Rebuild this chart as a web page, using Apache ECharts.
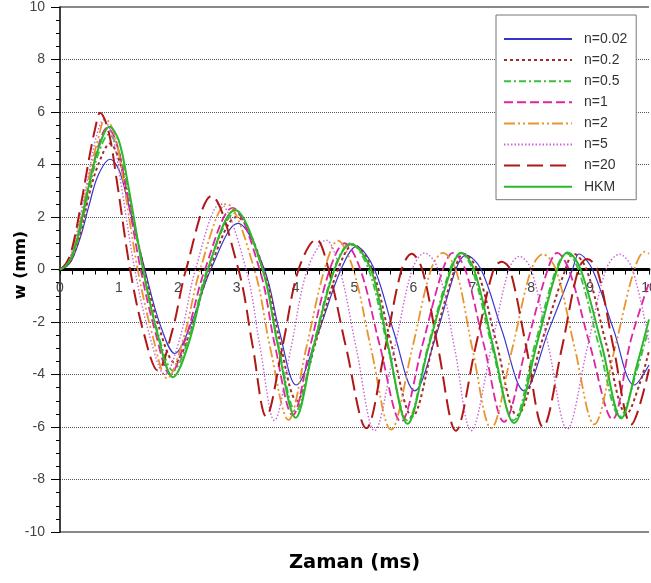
<!DOCTYPE html>
<html>
<head>
<meta charset="utf-8">
<script src="https://cdn.jsdelivr.net/npm/echarts@6/dist/echarts.min.js"></script>
<style>
  html, body { margin: 0; padding: 0; background: #fff; }
  #chart { width: 651px; height: 583px; }
</style>
</head>
<body>
<div id="chart"></div>
<script>
// Displacement w (mm) against time (ms), pairs of [t, w]
const seriesNames = ['n=0.02', 'n=0.2', 'n=0.5', 'n=1', 'n=2', 'n=5', 'n=20', 'HKM'];

const wN002 = [[0,0],[0.1,0.1],[0.2,0.35],[0.35,1.25],[0.5,2.5],[0.65,3.6],[0.85,4.2],[1.0,3.8],[1.15,2.6],[1.44,0],[1.7,-2.1],[1.95,-3.2],[2.22,-2.1],[2.56,0],[3.02,1.76],[3.47,0],[3.73,-2.4],[4.01,-4.4],[4.37,-2.5],[4.77,0],[5.03,0.87],[5.34,0],[5.67,-2.4],[6.02,-4.62],[6.4,-2.4],[6.72,0],[6.89,0.55],[7.15,0],[7.5,-2.3],[7.88,-4.62],[8.3,-2.3],[8.7,0],[8.81,0.59],[9.04,0],[9.4,-2.3],[9.75,-4.4],[10,-3.64]];

const wN02 = [[0,0],[0.1,0.12],[0.2,0.4],[0.35,1.4],[0.5,2.9],[0.65,4.0],[0.85,4.8],[1.0,4.2],[1.15,2.8],[1.43,0],[1.68,-2.2],[1.95,-3.55],[2.22,-2.3],[2.54,0],[3.0,2.0],[3.46,0],[3.72,-2.6],[4.02,-5.0],[4.35,-2.7],[4.72,0],[4.98,0.95],[5.3,0],[5.62,-2.8],[5.98,-5.6],[6.35,-2.7],[6.7,0],[6.85,0.6],[7.08,0],[7.4,-2.7],[7.76,-5.55],[8.2,-2.6],[8.58,0],[8.72,0.6],[8.94,0],[9.27,-2.8],[9.62,-5.5],[9.85,-4.3],[10,-3.1]];

const wN05 = [[0,0],[0.1,0.14],[0.2,0.45],[0.35,1.55],[0.5,3.1],[0.65,4.4],[0.83,5.15],[1.0,4.5],[1.15,3.1],[1.41,0],[1.66,-2.4],[1.92,-3.85],[2.2,-2.5],[2.5,0],[2.98,2.15],[3.44,0],[3.7,-2.8],[4.0,-5.4],[4.3,-2.9],[4.65,0],[4.93,1.0],[5.24,0],[5.56,-2.9],[5.9,-5.75],[6.25,-2.9],[6.62,0],[6.8,0.62],[7.0,0],[7.33,-2.9],[7.7,-5.75],[8.07,-2.8],[8.42,0],[8.6,0.62],[8.8,0],[9.15,-2.9],[9.51,-5.6],[9.8,-3.8],[10,-2.2]];

const wN1 = [[0,0],[0.1,0.16],[0.2,0.5],[0.35,1.7],[0.5,3.3],[0.65,4.7],[0.8,5.4],[0.95,4.9],[1.12,3.1],[1.37,0],[1.62,-2.4],[1.87,-4.0],[2.15,-2.5],[2.46,0],[2.93,2.35],[3.39,0],[3.65,-2.9],[3.95,-5.55],[4.25,-2.9],[4.58,0],[4.83,1.0],[5.1,0],[5.43,-2.9],[5.79,-5.8],[6.15,-2.9],[6.5,0],[6.67,0.63],[6.88,0],[7.2,-2.9],[7.54,-5.8],[7.92,-2.9],[8.28,0],[8.44,0.63],[8.64,0],[9.0,-2.9],[9.38,-5.7],[9.69,-2.7],[10,-0.5]];

const wN2 = [[0,0],[0.1,0.18],[0.2,0.6],[0.35,1.9],[0.5,3.6],[0.65,5.0],[0.77,5.75],[0.92,5.2],[1.08,3.3],[1.32,0],[1.57,-2.5],[1.82,-4.15],[2.1,-2.6],[2.38,0],[2.83,2.5],[3.3,0],[3.57,-3.0],[3.88,-5.73],[4.18,-3.0],[4.49,0],[4.72,1.1],[4.98,0],[5.28,-3.0],[5.62,-6.1],[5.98,-3.0],[6.3,0],[6.5,0.63],[6.72,0],[7.0,-3.0],[7.32,-6.04],[7.68,-3.0],[8.0,0],[8.2,0.58],[8.42,0],[8.74,-3.0],[9.07,-5.9],[9.42,-3.0],[9.75,0],[9.93,0.68],[10,0.6]];

const wN5 = [[0,0],[0.1,0.2],[0.2,0.65],[0.35,2.1],[0.5,3.8],[0.62,5.1],[0.74,5.7],[0.9,5.0],[1.04,3.2],[1.27,0],[1.52,-2.5],[1.78,-4.0],[2.05,-2.5],[2.3,0],[2.72,2.5],[3.16,0],[3.4,-3.0],[3.64,-5.75],[3.92,-3.0],[4.2,0],[4.52,1.12],[4.75,0],[5.03,-3.0],[5.34,-6.14],[5.68,-3.0],[5.98,0],[6.19,0.63],[6.42,0],[6.7,-3.0],[6.98,-6.14],[7.32,-3.0],[7.62,0],[7.8,0.5],[8.0,0],[8.3,-3.0],[8.61,-6.08],[8.95,-3.0],[9.27,0],[9.5,0.58],[9.72,0],[10,-2.8]];

const wN20 = [[0,0],[0.1,0.22],[0.2,0.75],[0.35,2.4],[0.5,4.3],[0.6,5.4],[0.68,5.97],[0.82,5.3],[0.97,3.3],[1.19,0],[1.42,-2.4],[1.66,-3.85],[1.91,-2.3],[2.14,0],[2.57,2.8],[3.03,0],[3.27,-2.9],[3.5,-5.6],[3.78,-2.9],[4.05,0],[4.35,1.15],[4.56,0],[4.86,-3.0],[5.2,-6.05],[5.52,-3.0],[5.8,0],[5.97,0.6],[6.15,0],[6.42,-3.0],[6.72,-6.14],[7.05,-3.0],[7.36,0],[7.5,0.3],[7.64,0],[7.92,-3.0],[8.2,-6.0],[8.52,-3.0],[8.8,0],[8.95,0.4],[9.12,0],[9.4,-3.0],[9.7,-5.9],[10,-3.8]];

const wHKM = [[0,0],[0.1,0.15],[0.2,0.49],[0.3,1.24],[0.5,3.3],[0.65,4.6],[0.84,5.44],[1.0,4.9],[1.15,3.3],[1.41,0],[1.65,-2.4],[1.92,-4.1],[2.2,-2.7],[2.51,0],[2.97,2.27],[3.44,0],[3.7,-2.9],[4.0,-5.65],[4.3,-3.0],[4.66,0],[4.94,0.97],[5.28,0],[5.58,-3.0],[5.9,-5.88],[6.25,-3.0],[6.64,0],[6.81,0.64],[7.03,0],[7.35,-2.9],[7.71,-5.85],[8.1,-2.8],[8.44,0],[8.62,0.65],[8.84,0],[9.2,-2.9],[9.53,-5.67],[9.8,-3.6],[10,-1.9]];

const seriesData = [wN002, wN02, wN05, wN1, wN2, wN5, wN20, wHKM];

// Line look for each curve: colour, width, dash pattern
const lineLooks = [
  { color: '#3535cc', width: 1.2, type: 'solid' },
  { color: '#a52a2a', width: 2,   type: [3, 3] },
  { color: '#3cbf3c', width: 1.8, type: [7, 3, 2, 3] },
  { color: '#e0239e', width: 1.8, type: [9, 4] },
  { color: '#e8952c', width: 1.8, type: [11, 3, 2, 3, 2, 3] },
  { color: '#c965d6', width: 1.4, type: [1.5, 2] },
  { color: '#b01818', width: 2,   type: [16, 7] },
  { color: '#2cb82c', width: 2,   type: 'solid' }
];

const baseFont = 'Liberation Sans, Arial, sans-serif';

// plot box in pixels
const plotTop = 7, plotBottom = 532;
// distance from the bottom edge up to the w = 0 line
const zeroLift = (plotBottom - plotTop) / 2;

const chart = echarts.init(document.getElementById('chart'), null, { renderer: 'canvas' });

const series = seriesNames.map((name, i) => ({
  name: name,
  type: 'line',
  data: seriesData[i],
  smooth: 0.35,
  symbol: 'none',
  clip: true,
  lineStyle: lineLooks[i],
  itemStyle: { color: lineLooks[i].color },
  emphasis: { disabled: true },
  z: 2 + i
}));

chart.setOption({
  animation: false,
  backgroundColor: '#fff',
  grid: { left: 60, right: 2, top: plotTop, bottom: 583 - plotBottom, containLabel: false, outerBoundsMode: 'none' },
  legend: {
    data: seriesNames,
    orient: 'vertical',
    left: 496,
    top: 15,
    itemWidth: 68,
    itemHeight: 14,
    itemGap: 7.1,
    padding: [17, 9, 6, 7],
    backgroundColor: '#fff',
    borderColor: '#777',
    borderWidth: 1,
    borderRadius: 0,
    itemStyle: { opacity: 0 },
    textStyle: { fontFamily: baseFont, fontSize: 14, color: '#333', padding: [0, 0, 0, 7] },
    z: 20
  },
  xAxis: {
    type: 'value',
    min: 0,
    max: 10,
    interval: 1,
    position: 'bottom',
    offset: -zeroLift,
    name: 'Zaman (ms)',
    nameLocation: 'middle',
    nameGap: 283,
    nameMoveOverlap: false,
    nameTextStyle: { fontFamily: 'DejaVu Sans, Verdana, sans-serif', fontWeight: 'bold', fontSize: 19.5, color: '#000' },
    axisLine: { onZero: false, lineStyle: { color: '#000', width: 3 } },
    axisTick: { show: true, length: 5, lineStyle: { color: '#000', width: 1 } },
    minorTick: { show: true, splitNumber: 5, length: 5, lineStyle: { color: '#000', width: 1 } },
    axisLabel: { margin: 12, fontFamily: baseFont, fontSize: 14, color: '#444' },
    splitLine: { show: false }
  },
  yAxis: [
    {
      type: 'value',
      min: -10,
      max: 10,
      interval: 2,
      name: 'w (mm)',
      nameLocation: 'middle',
      nameGap: 31,
      nameMoveOverlap: false,
      nameRotate: 90,
      nameTextStyle: { fontFamily: 'DejaVu Sans, Verdana, sans-serif', fontWeight: 'bold', fontSize: 16, color: '#000', padding: [0, 0, 0, 9] },
      axisLine: { show: true, lineStyle: { color: '#000', width: 1.5 } },
      axisTick: { show: true, length: 9, lineStyle: { color: '#000', width: 1 } },
      minorTick: { show: true, splitNumber: 4, length: 4, lineStyle: { color: '#000', width: 1 } },
      axisLabel: { margin: 15, fontFamily: baseFont, fontSize: 14, color: '#444' },
      splitLine: { show: true, lineStyle: { color: '#555', width: 1, type: [1, 1] } }
    },
    {
      // frame lines along the top and bottom of the plot area
      type: 'value',
      min: -10,
      max: 10,
      interval: 20,
      position: 'right',
      axisLine: { show: false },
      axisTick: { show: false },
      axisLabel: { show: false },
      splitLine: { show: true, lineStyle: { color: '#888', width: 2, type: 'solid' } }
    }
  ],
  series: series
});
</script>
</body>
</html>
